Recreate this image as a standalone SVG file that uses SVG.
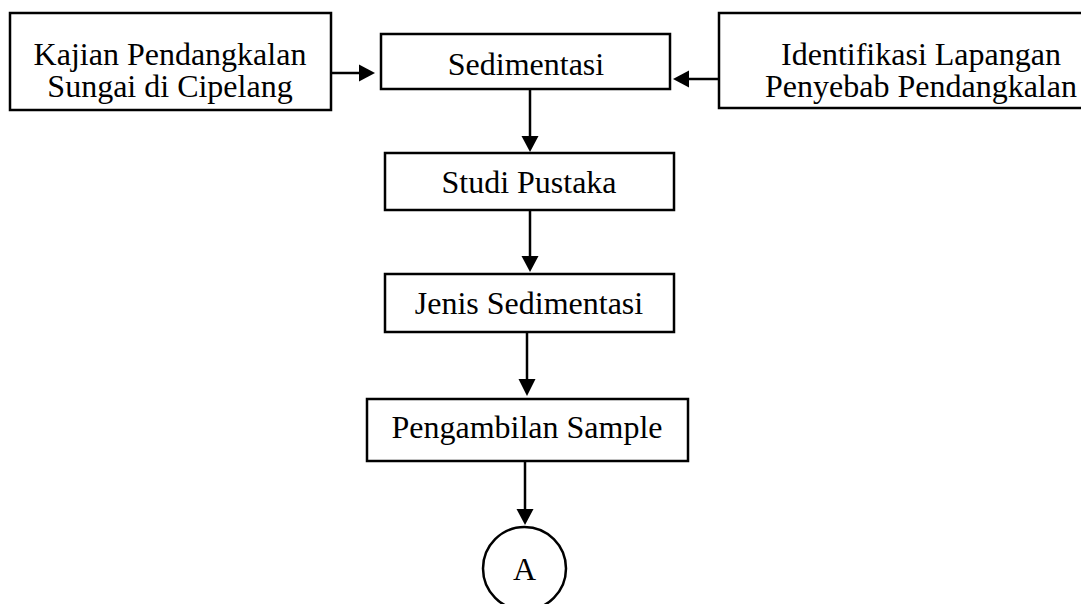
<svg xmlns="http://www.w3.org/2000/svg" width="1081" height="604" viewBox="0 0 1081 604">
<style>
.n rect, .n circle { fill: #fff; stroke: #000; stroke-width: 2.5; }
.c line { stroke: #000; stroke-width: 2.5; }
.c polygon { fill: #000; }
text { font-family: "Liberation Serif", "Times New Roman", serif; font-size: 32px; fill: #000; text-anchor: middle; }
</style>
<rect width="1081" height="604" style="fill:#fff;stroke:none"/>
<g class="c" id="connectors">
  <line x1="331" y1="73" x2="360" y2="73"/>
  <polygon points="359,64.5 375,73 359,81.5"/>
  <line x1="719" y1="79" x2="687" y2="79"/>
  <polygon points="689,70.5 673,79 689,87.5"/>
  <line x1="530" y1="89" x2="530" y2="137"/>
  <polygon points="521.5,136 538.5,136 530,152"/>
  <line x1="530" y1="210" x2="530" y2="257"/>
  <polygon points="521.5,256 538.5,256 530,272"/>
  <line x1="527" y1="332" x2="527" y2="380"/>
  <polygon points="518.5,379 535.5,379 527,396"/>
  <line x1="525" y1="461" x2="525" y2="510"/>
  <polygon points="516.5,509 533.5,509 525,525"/>
</g>
<g class="n" id="kajian">
  <rect x="10" y="13" width="321" height="97"/>
  <text x="170" y="65">Kajian Pendangkalan<tspan x="170" dy="32">Sungai di Cipelang</tspan></text>
</g>
<g class="n" id="sedimentasi">
  <rect x="381" y="34" width="289" height="55"/>
  <text x="526" y="75">Sedimentasi</text>
</g>
<g class="n" id="identifikasi">
  <rect x="719" y="13" width="400" height="95"/>
  <text x="921" y="65">Identifikasi Lapangan<tspan x="921" dy="32">Penyebab Pendangkalan</tspan></text>
</g>
<g class="n" id="studi">
  <rect x="385" y="153" width="289" height="57"/>
  <text x="529" y="193">Studi Pustaka</text>
</g>
<g class="n" id="jenis">
  <rect x="385" y="274" width="289" height="58"/>
  <text x="529" y="314">Jenis Sedimentasi</text>
</g>
<g class="n" id="pengambilan">
  <rect x="367" y="399" width="321" height="62"/>
  <text x="527" y="438">Pengambilan Sample</text>
</g>
<g class="n" id="a">
  <circle cx="524.5" cy="568.5" r="41.5"/>
  <text x="524.5" y="580">A</text>
</g>
</svg>
